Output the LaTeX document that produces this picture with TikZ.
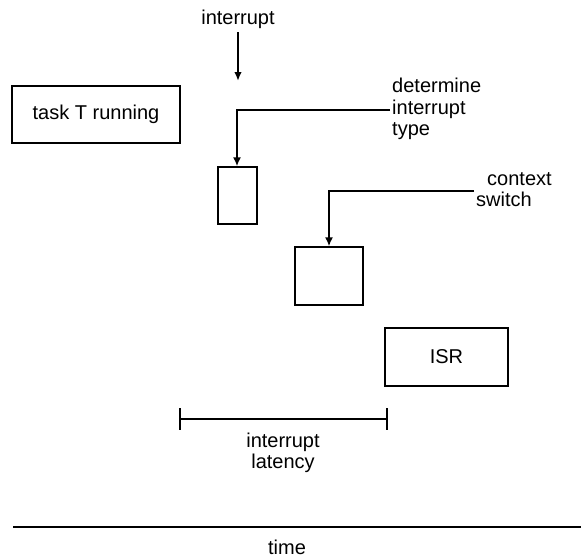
\documentclass[tikz,border=0pt]{standalone}
\usepackage{fontspec}
\setmainfont{Liberation Sans}
\usetikzlibrary{arrows.meta}
\begin{document}
\begin{tikzpicture}[x=1pt,y=-1pt,
  lbl/.style={font=\fontsize{20}{21.5}\selectfont, inner sep=0pt, align=left},
  block/.style={draw, line width=1.3pt, inner sep=0pt},
  arr/.style={line width=2.8pt, -{Latex[length=9pt,width=8pt]}},
  thinarr/.style={line width=2.2pt, -{Latex[length=9pt,width=7.5pt]}}]
\useasboundingbox (0,0) rectangle (581,557);
% task box
\node[block, line width=1.8pt, minimum width=168pt, minimum height=57pt, font=\fontsize{20}{21.5}\selectfont] (task) at (96,114.5) {task T running};
% interrupt
\node[lbl, anchor=center] (intlbl) at (238,19) {interrupt};
\coordinate (intend) at (238,81);
\draw[thinarr] (238,32) -- (intend);
% box 1
\node[block, minimum width=39pt, minimum height=57pt] (b1) at (237.5,195.5) {};
\node[lbl, anchor=north west] (det) at (392,78) {determine\\interrupt\\type};
\coordinate (detstart) at (390,110);
\draw[arr] (detstart) -- (237,110) -- (b1.north -| 237,0);
% box 2
\node[block, minimum width=68pt, minimum height=58pt] (b2) at (329,276) {};
\node[lbl, anchor=north west] (ctx) at (476,172) {\hspace*{11pt}context\\switch};
\coordinate (ctxstart) at (474,191);
\draw[arr] (ctxstart) -- (329,191) -- (b2.north);
% ISR
\node[block, minimum width=123pt, minimum height=58pt, font=\fontsize{20}{21.5}\selectfont] (isr) at (446.5,357) {ISR};
% latency
\coordinate (la) at (180,419);
\coordinate (lb) at (387,419);
\draw[line width=1.8pt] (la) -- (lb);
\draw[line width=1.2pt] (180,408) -- (180,430);
\draw[line width=1.2pt] (387,408) -- (387,430);
\node[lbl, align=center] (lat) at (283,453) {interrupt\\latency};
% time
\coordinate (ta) at (13,527);
\coordinate (tb) at (581,527);
\draw[line width=1.8pt] (ta) -- (tb);
\node[lbl] (time) at (287,547) {time};
\end{tikzpicture}
\end{document}
